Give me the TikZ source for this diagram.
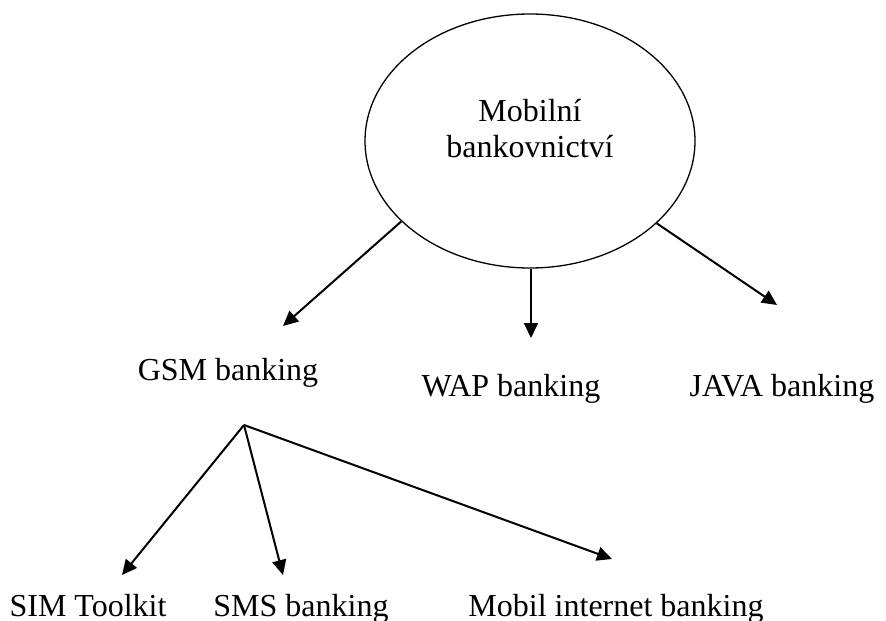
\documentclass[tikz,border=0pt]{standalone}
\usepackage{fontspec}
\setmainfont{Liberation Serif}
\usepackage{tikz}
\usetikzlibrary{positioning,arrows.meta,shapes.geometric}
\tikzset{
  root/.style={ellipse, draw, line width=1.3pt, minimum width=330pt, minimum height=254pt,
               inner sep=0pt},
  title/.style={inner sep=0pt, align=center, font=\fontsize{32}{36}\selectfont},
  leaf/.style={anchor=base, inner sep=0pt, font=\fontsize{32}{36}\selectfont},
  arr/.style={-{Triangle[length=15pt, width=14pt]}, line width=2pt},
}

\begin{document}
\begin{tikzpicture}[x=1pt, y=1pt]
    \useasboundingbox (0,0) rectangle (886,-621);
    \node[root] (mb) at (530,-141) {};
    \node[title] (mbtext) at (530,-129) {Mobilní\\bankovnictví};
    % first level
    \node[leaf] (gsm) at (228,-380) {GSM banking};
    \node[leaf] (wap) at (511,-396) {WAP banking};
    \node[leaf] (java) at (782,-396) {JAVA banking};
    \coordinate (gsmtip) at (283,-326);
    \coordinate (waptip) at (531,-338);
    \coordinate (javatip) at (777,-305);
    \draw[arr] (mb.212.8) -- (gsmtip);
    \draw[arr] (mb.south) ++(1,0) -- (waptip);
    \draw[arr] (mb.327.4) -- (javatip);
    % second level, below GSM
    \coordinate (fork) at (244,-425);
    \node[leaf] (sim) at (88,-616) {SIM Toolkit};
    \node[leaf] (sms) at (301,-616) {SMS banking};
    \node[leaf] (mib) at (616,-616) {Mobil internet banking};
    \coordinate (simtip) at (122,-575);
    \coordinate (smstip) at (283,-575);
    \coordinate (mibtip) at (612,-559);
    \draw[arr] (fork) -- (simtip);
    \draw[arr] (fork) -- (smstip);
    \draw[arr] (fork) -- (mibtip);
  \end{tikzpicture}
\end{document}
